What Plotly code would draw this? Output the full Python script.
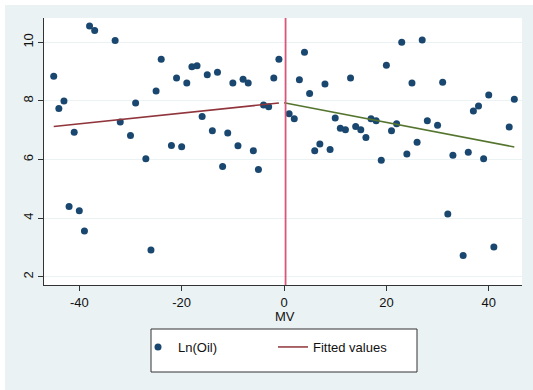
import plotly.graph_objects as go

# ---- data ----
mv = [-45, -44, -43, -42, -41, -40, -39, -38, -37, -33, -32, -30, -29, -27, -26, -25, -24,
      -22, -21, -20, -19, -18, -17, -16, -15, -14, -13, -12, -11, -10, -9, -8, -7, -6, -5,
      -4, -3, -2, -1,
      1, 2, 3, 4, 5, 6, 7, 8, 9, 10, 11, 12, 13, 14, 15, 16, 17, 18, 19, 20, 21, 22, 23,
      24, 25, 26, 27, 28, 30, 31, 32, 33, 35, 36, 37, 38, 39, 40, 41, 44, 45]
ln_oil = [8.84, 7.74, 8.00, 4.40, 6.93, 4.25, 3.56, 10.56, 10.40, 10.06, 7.28, 6.82, 7.93,
          6.03, 2.91, 8.34, 9.42, 6.48, 8.78, 6.44, 8.61, 9.17, 9.20, 7.47, 8.89, 6.98, 8.98,
          5.76, 6.91, 8.61, 6.47, 8.74, 8.61, 6.30, 5.66, 7.86, 7.80, 8.78, 9.42,
          7.56, 7.39, 8.72, 9.66, 8.25, 6.30, 6.53, 8.58, 6.34, 7.42, 7.07, 7.02, 8.78, 7.13,
          7.02, 6.75, 7.39, 7.32, 5.98, 9.22, 6.98, 7.22, 10.00, 6.19, 8.61, 6.59, 10.08,
          7.32, 7.17, 8.64, 4.14, 6.15, 2.73, 6.25, 7.66, 7.83, 6.03, 8.20, 3.02, 7.11, 8.06]

fit_left_x = [-45, -1]
fit_left_y = [7.13, 7.93]
fit_right_x = [0, 45]
fit_right_y = [7.94, 6.43]

cutoff = 0.3
x_ticks = [-40, -20, 0, 20, 40]
x_tick_labels = ["-40", "-20", "0", "20", "40"]
y_ticks = [2, 4, 6, 8, 10]
y_tick_labels = ["2", "4", "6", "8", "10"]
x_title = "MV"

# ---- layout geometry (pixels) ----
W, H = 533, 390
L, R, T, B = 44, 522, 18, 285
pw, ph = R - L, B - T


def px_x(p):
    return (p - L) / pw


def px_y(p):
    return (B - p) / ph


BG = "#eaf2f3"
FONT = "Arial, Liberation Sans, sans-serif"

fig = go.Figure()
fig.add_trace(go.Scatter(x=mv, y=ln_oil, mode="markers", name="Ln(Oil)",
                         marker=dict(color="#1a476f", size=7, line=dict(width=0))))
fig.add_trace(go.Scatter(x=fit_left_x, y=fit_left_y, mode="lines", name="Fitted values",
                         line=dict(color="#90353b", width=1.5)))
fig.add_trace(go.Scatter(x=fit_right_x, y=fit_right_y, mode="lines", name="Fitted values",
                         showlegend=False, line=dict(color="#55752f", width=1.5)))

shapes = [
    # outer graph region
    dict(type="rect", xref="paper", yref="paper", x0=px_x(5), x1=px_x(W + 2),
         y0=px_y(H + 2), y1=px_y(5), fillcolor=BG, line=dict(width=0), layer="below"),
    # plot region
    dict(type="rect", xref="paper", yref="paper", x0=0, x1=1, y0=0, y1=1,
         fillcolor="white", line=dict(width=0), layer="below"),
    # legend box
    dict(type="rect", xref="paper", yref="paper", x0=px_x(151), x1=px_x(417),
         y0=px_y(372), y1=px_y(329), fillcolor="white",
         line=dict(color="#333333", width=1), layer="below"),
    # vertical reference line
    dict(type="line", xref="x", yref="paper", x0=cutoff, x1=cutoff, y0=0, y1=1,
         line=dict(color="#d8577a", width=1.8), layer="above"),
]

fig.update_layout(
    width=W, height=H,
    margin=dict(l=L, r=W - R, t=T, b=H - B),
    paper_bgcolor="white", plot_bgcolor="white",
    font=dict(family=FONT, size=13, color="#111111"),
    shapes=shapes,
    showlegend=True,
    legend=dict(orientation="h", x=px_x(138), xanchor="left", y=px_y(347), yanchor="middle",
                bgcolor="rgba(0,0,0,0)", borderwidth=0, entrywidth=90,
                font=dict(family=FONT, size=13, color="#111111")),
    annotations=[dict(text=x_title, xref="paper", yref="paper", x=px_x(285), y=px_y(316),
                      xanchor="center", yanchor="middle", showarrow=False, borderpad=0,
                      font=dict(family=FONT, size=13, color="#111111"))],
    xaxis=dict(range=[-46.9, 46.5], tickvals=x_ticks, ticktext=x_tick_labels,
               showgrid=False, zeroline=False,
               showline=True, linecolor="#333333", linewidth=1,
               ticks="outside", ticklen=5, tickcolor="#333333",
               tickfont=dict(size=13)),
    yaxis=dict(range=[1.72, 10.83], tickvals=y_ticks, ticktext=y_tick_labels,
               showgrid=True, gridcolor=BG,
               gridwidth=1, zeroline=False, showline=True, linecolor="#333333", linewidth=1,
               ticks="outside", ticklen=5, tickcolor="#333333", tickangle=-90,
               tickfont=dict(size=13)),
)

fig.write_html("out.html")
